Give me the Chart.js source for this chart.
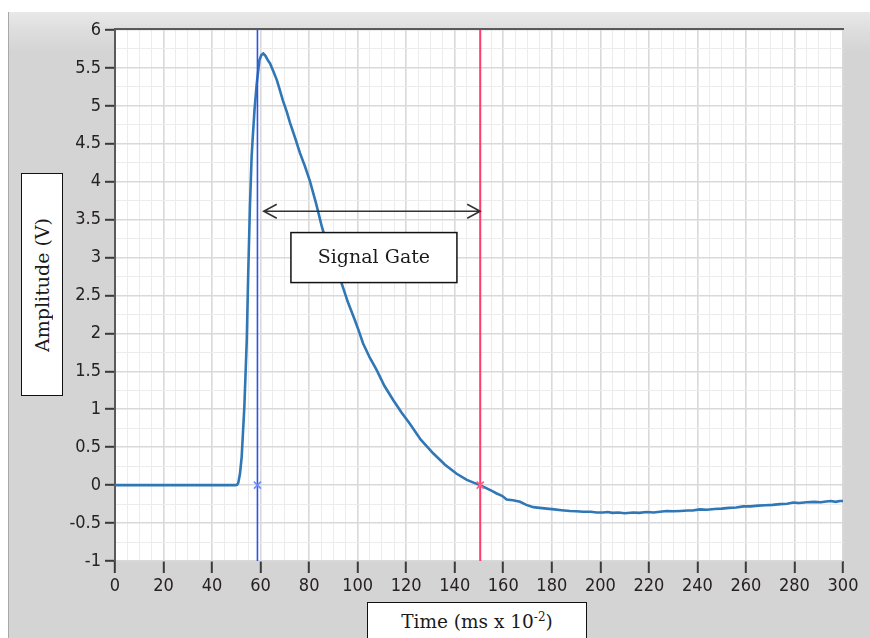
<!DOCTYPE html>
<html>
<head>
<meta charset="utf-8">
<title>Signal Gate</title>
<script src="https://cdn.jsdelivr.net/npm/chart.js@4/dist/chart.umd.min.js"></script>
<style>
  html, body { margin: 0; padding: 0; background: #fff; overflow: hidden; }
  #panel {
    position: absolute; left: 8px; top: 12px; width: 862px; height: 626px;
    background: linear-gradient(to bottom, #e8e8e8 0px, #dedede 18px, #d4d4d4 40px, #d4d4d4 100%);
    border-left: 1px solid #a8a8a8;
  }
  #wrap { position: absolute; left: 0; top: 0; width: 870px; height: 638px; }
  .title-box {
    position: absolute; background: #fff; border: 1.5px solid #111;
    font-family: "DejaVu Serif", serif; font-size: 19px; color: #1a1a1a;
    box-sizing: border-box;
  }
  #ytitle {
    left: 21px; top: 173px; width: 42px; height: 223px;
    display: flex; align-items: center; justify-content: center;
  }
  #ytitle span { writing-mode: vertical-rl; transform: rotate(180deg); white-space: nowrap; }
  #xtitle {
    left: 367px; top: 602px; width: 220px; height: 50px;
    text-align: center; padding-top: 7px; font-size: 18.5px;
  }
  #xtitle sup { font-size: 12px; vertical-align: 7px; }
</style>
</head>
<body>
<div id="panel"></div>
<div id="wrap"><canvas id="gate-chart" width="870" height="638"></canvas></div>
<div id="ytitle" class="title-box"><span>Amplitude (V)</span></div>
<div id="xtitle" class="title-box">Time (ms x 10<sup>-2</sup>)</div>

<script>
// Sampled pulse (time in ms x 10^-2, amplitude in V)
const timeAxis = [
  0, 10, 20, 30, 40, 48, 49.5, 50.3, 50.8, 51.5, 52.2, 53.3, 54.3, 54.9, 55.6, 56.3,
  56.7, 57.5, 58.4, 59.5, 60.3, 61.1, 62, 63, 63.9, 65.2, 66.7, 68, 69.2, 70.7,
  72.1, 74.2, 76.2, 78.3, 80.3, 82.8, 85.3, 87, 88.6, 90.8, 93.4, 96, 98.9,
  100.5, 102.2, 105, 107.8, 111, 114.7, 118, 121.5, 126, 131.1, 136, 140.8, 145,
  148, 150.4, 153, 155.5, 157.3, 159.5, 161.4, 164, 166.9, 169.5, 172.4, 175,
  177.9, 181, 184, 187.5, 190, 193, 196, 198.5, 201.2, 203, 205, 207.5, 210, 213.6,
  216, 219, 222, 224.5, 227.3, 230, 233, 236, 238, 241, 244, 247, 250, 253, 256,
  258.9, 262, 265, 268, 271, 274, 277, 279.5, 282, 285, 288, 291, 293, 295, 297,
  298.7, 300
];
const amplitude = [
  0, 0, 0, 0, 0, 0, 0, 0.005, 0.03, 0.15, 0.37, 1.03, 1.91, 2.79, 3.67, 4.33,
  4.55, 4.95, 5.29, 5.6, 5.67, 5.69, 5.66, 5.6, 5.56, 5.46, 5.34, 5.2, 5.07, 4.93,
  4.78, 4.58, 4.38, 4.2, 4.01, 3.72, 3.4, 3.22, 3.07, 2.86, 2.66, 2.41, 2.17,
  2.03, 1.87, 1.68, 1.52, 1.31, 1.12, 0.96, 0.81, 0.6, 0.42, 0.27, 0.15, 0.07,
  0.03, 0, -0.04, -0.08, -0.11, -0.14, -0.19, -0.2, -0.22, -0.26, -0.29, -0.3,
  -0.31, -0.32, -0.33, -0.34, -0.345, -0.35, -0.35, -0.36, -0.36, -0.355, -0.365, -0.36, -0.37, -0.36,
  -0.365, -0.355, -0.36, -0.35, -0.34, -0.345, -0.34, -0.335, -0.335, -0.32, -0.325, -0.315, -0.31, -0.3, -0.295,
  -0.28, -0.28, -0.27, -0.265, -0.26, -0.25, -0.245, -0.23, -0.235, -0.225, -0.22, -0.225, -0.215, -0.21, -0.22,
  -0.21, -0.21
];

// Gate cursors and annotation placement (data units)
const cursorStart = 58.7;
const cursorEnd = 150.5;
const cursorLevel = 0;
const arrowStart = 61.3;
const arrowLevel = 3.61;
const gateLabel = "Signal Gate";
const gateLabelPos = { x: 106.7, y: 3.0 };

// Axis ranges and ticks
const xRange = [0, 300];
const yRange = [-1, 6];
const xMajorStep = 20;
const xMinorStep = 5;
const yMajorStep = 0.5;
const yMinorStep = 0.25;

const tickFont = { family: "'DejaVu Sans Condensed', 'DejaVu Sans', sans-serif", size: 18 };
const majorGrid = "#d9d9d9";
const minorGrid = "#ececec";

const isMajor = (v, step) => Math.abs(v / step - Math.round(v / step)) < 1e-6;

const pulse = timeAxis.map((t, i) => ({ x: t, y: amplitude[i] }));

// white plot background + dark frame on top
const plotFrame = {
  id: "plotFrame",
  beforeDraw(chart) {
    const { ctx, chartArea: a } = chart;
    ctx.save();
    ctx.fillStyle = "#fff";
    ctx.fillRect(a.left, a.top, a.right - a.left, a.bottom - a.top);
    ctx.restore();
  },
  afterDraw(chart) {
    const { ctx, chartArea: a } = chart;
    ctx.save();
    ctx.strokeStyle = "#5a5a5a";
    ctx.lineWidth = 2;
    ctx.beginPath();
    ctx.moveTo(a.left - 1, a.top - 1);
    ctx.lineTo(a.right + 1, a.top - 1);
    ctx.stroke();
    ctx.restore();
  }
};

// double arrow across the gate and its label box
const gateAnnotation = {
  id: "gateAnnotation",
  afterDatasetsDraw(chart) {
    const { ctx, scales: { x, y } } = chart;
    const x1 = x.getPixelForValue(arrowStart);
    const x2 = x.getPixelForValue(cursorEnd);
    const ya = y.getPixelForValue(arrowLevel);
    ctx.save();
    ctx.strokeStyle = "#333";
    ctx.lineWidth = 1.6;
    ctx.beginPath();
    ctx.moveTo(x1, ya);
    ctx.lineTo(x2, ya);
    ctx.moveTo(x1 + 13, ya - 7);
    ctx.lineTo(x1, ya);
    ctx.lineTo(x1 + 13, ya + 7);
    ctx.moveTo(x2 - 13, ya - 7);
    ctx.lineTo(x2, ya);
    ctx.lineTo(x2 - 13, ya + 7);
    ctx.stroke();

    const cx = x.getPixelForValue(gateLabelPos.x);
    const cy = y.getPixelForValue(gateLabelPos.y);
    const w = 166, h = 50;
    ctx.fillStyle = "#fff";
    ctx.fillRect(cx - w / 2, cy - h / 2, w, h);
    ctx.strokeStyle = "#111";
    ctx.lineWidth = 1.5;
    ctx.strokeRect(cx - w / 2, cy - h / 2, w, h);
    ctx.fillStyle = "#1a1a1a";
    ctx.font = "19px 'DejaVu Serif', serif";
    ctx.textAlign = "center";
    ctx.textBaseline = "middle";
    ctx.fillText(gateLabel, cx, cy);
    ctx.restore();
  }
};

new Chart(document.getElementById("gate-chart"), {
  type: "scatter",
  data: {
    datasets: [
      {
        label: "Pulse",
        data: pulse,
        showLine: true,
        borderColor: "#3077b5",
        borderWidth: 2.6,
        pointRadius: 0,
        tension: 0,
        order: 3
      },
      {
        label: "Gate start",
        data: [{ x: cursorStart, y: yRange[0] }, { x: cursorStart, y: yRange[1] }],
        showLine: true,
        borderColor: "#2f52e6",
        borderWidth: 1.6,
        pointRadius: 0,
        order: 2
      },
      {
        label: "Gate end",
        data: [{ x: cursorEnd, y: yRange[0] }, { x: cursorEnd, y: yRange[1] }],
        showLine: true,
        borderColor: "#ff3d6e",
        borderWidth: 2,
        pointRadius: 0,
        order: 2
      },
      {
        label: "Start marker",
        data: [{ x: cursorStart, y: cursorLevel }],
        pointStyle: "crossRot",
        pointRadius: 5,
        borderColor: "#6f8cff",
        borderWidth: 1.6,
        order: 1
      },
      {
        label: "End marker",
        data: [{ x: cursorEnd, y: cursorLevel }],
        pointStyle: "crossRot",
        pointRadius: 5,
        borderColor: "#ff5c8a",
        borderWidth: 1.6,
        order: 1
      }
    ]
  },
  options: {
    responsive: false,
    animation: false,
    layout: { padding: { left: 0, top: 30, right: 27, bottom: 0 } },
    plugins: {
      legend: { display: false },
      tooltip: { enabled: false }
    },
    scales: {
      x: {
        type: "linear",
        min: xRange[0],
        max: xRange[1],
        afterFit: s => { s.height = 77; },
        border: { display: false },
        grid: {
          color: c => isMajor(c.tick.value, xMajorStep) ? majorGrid : minorGrid,
          lineWidth: c => isMajor(c.tick.value, xMajorStep) ? 1.6 : 1,
          tickLength: 12,
          tickWidth: 2,
          tickColor: c => isMajor(c.tick.value, xMajorStep) ? "#3a3a3a" : "rgba(0,0,0,0)"
        },
        ticks: {
          stepSize: xMinorStep,
          autoSkip: false,
          maxRotation: 0,
          padding: 3,
          color: "#262222",
          font: tickFont,
          callback: v => isMajor(v, xMajorStep) ? v : ""
        }
      },
      y: {
        min: yRange[0],
        max: yRange[1],
        afterFit: s => { s.width = 115; },
        border: { display: true, color: "#5a5a5a", width: 2 },
        grid: {
          color: c => isMajor(c.tick.value, yMajorStep) ? majorGrid : minorGrid,
          lineWidth: c => isMajor(c.tick.value, yMajorStep) ? 1.6 : 1,
          tickLength: 10,
          tickWidth: 2,
          tickColor: c => isMajor(c.tick.value, yMajorStep) ? "#3a3a3a" : "rgba(0,0,0,0)"
        },
        ticks: {
          stepSize: yMinorStep,
          autoSkip: false,
          padding: 4,
          color: "#262222",
          font: tickFont,
          callback: v => isMajor(v, yMajorStep) ? v : ""
        }
      }
    }
  },
  plugins: [plotFrame, gateAnnotation]
});
</script>
</body>
</html>
